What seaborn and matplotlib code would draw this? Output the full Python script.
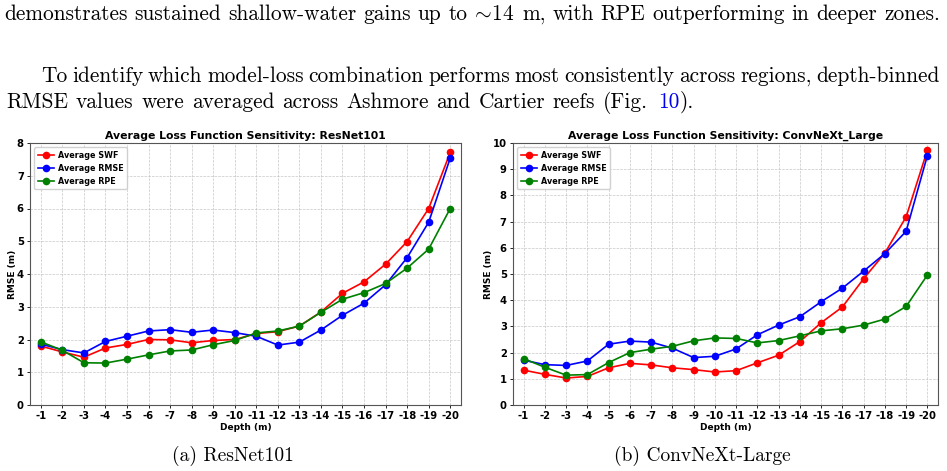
import pandas as pd
import seaborn as sns
import matplotlib.pyplot as plt

depths = [-1, -2, -3, -4, -5, -6, -7, -8, -9, -10,
          -11, -12, -13, -14, -15, -16, -17, -18, -19, -20]
depth_labels = [str(d) for d in depths]

# ResNet101 averages
resnet_swf = [1.80, 1.62, 1.46, 1.74, 1.85, 2.00, 1.99, 1.90, 1.97, 2.00,
              2.18, 2.24, 2.41, 2.84, 3.41, 3.76, 4.30, 4.99, 6.00, 7.71]
resnet_rmse = [1.86, 1.69, 1.59, 1.94, 2.10, 2.26, 2.30, 2.22, 2.29, 2.21,
               2.10, 1.83, 1.92, 2.29, 2.74, 3.11, 3.67, 4.50, 5.58, 7.54]
resnet_rpe = [1.93, 1.67, 1.29, 1.28, 1.40, 1.53, 1.65, 1.68, 1.84, 1.97,
              2.20, 2.26, 2.41, 2.83, 3.23, 3.43, 3.71, 4.18, 4.76, 6.00]

# ConvNeXt_Large averages
convnext_swf = [1.33, 1.17, 1.03, 1.09, 1.42, 1.59, 1.53, 1.42, 1.35, 1.26,
                1.31, 1.61, 1.90, 2.42, 3.14, 3.74, 4.82, 5.80, 7.18, 9.73]
convnext_rmse = [1.71, 1.54, 1.51, 1.68, 2.32, 2.44, 2.40, 2.17, 1.81, 1.86,
                 2.14, 2.68, 3.05, 3.37, 3.94, 4.46, 5.11, 5.78, 6.63, 9.52]
convnext_rpe = [1.77, 1.44, 1.14, 1.16, 1.62, 2.00, 2.13, 2.24, 2.45, 2.56,
                2.54, 2.37, 2.46, 2.64, 2.83, 2.91, 3.05, 3.28, 3.76, 4.96]

series_names = ['Average SWF', 'Average RMSE', 'Average RPE']
series_colors = ['red', 'blue', 'green']

line_1 = ('demonstrates sustained shallow-water gains up to $\\!\\sim\\!$14 m, '
          'with RPE outperforming in deeper zones.')
line_2 = ('To identify which model-loss combination performs most consistently '
          'across regions, depth-binned')
line_3 = 'RMSE values were averaged across Ashmore and Cartier reefs (Fig.'
fig_ref = '10'
captions = ['(a) ResNet101', '(b) ConvNeXt-Large']


def plot_panel(ax, values, title, ymax):
    for name, vals, col in zip(series_names, values, series_colors):
        df = pd.DataFrame({'depth': depths, 'rmse': vals})
        sns.lineplot(data=df, x='depth', y='rmse', color=col, marker='o',
                     markersize=5.5, markeredgewidth=0, linewidth=1.2,
                     label=name, ax=ax)
    ax.set_xlim(-0.5, -20.5)
    ax.set_ylim(0, ymax)
    ax.set_xticks(depths)
    ax.set_xticklabels(depth_labels)
    ax.set_yticks(range(0, ymax + 1))
    ax.grid(True, linestyle='--', linewidth=0.5, color='#b0b0b0', alpha=0.7)
    ax.set_title(title, fontsize=7.8, fontweight='bold', pad=3)
    ax.set_xlabel('Depth (m)', fontsize=6.5, fontweight='bold', labelpad=1)
    ax.set_ylabel('RMSE (m)', fontsize=6.5, fontweight='bold', labelpad=0)
    ax.tick_params(labelsize=7.2, length=2.5, width=0.6, pad=2)
    for lab in ax.get_xticklabels() + ax.get_yticklabels():
        lab.set_fontweight('bold')
    for sp in ax.spines.values():
        sp.set_linewidth(0.8)
        sp.set_color('#555555')
    leg = ax.legend(loc='upper left', fontsize=5.8, handlelength=2.0,
                    borderpad=0.45, labelspacing=0.5, handletextpad=0.5,
                    borderaxespad=0.5, framealpha=0.9)
    for t in leg.get_texts():
        t.set_fontweight('bold')


plt.rcParams['mathtext.fontset'] = 'cm'
fig = plt.figure(figsize=(9.47, 4.71), dpi=100)
W, H = 947, 471

ax1 = fig.add_axes([30 / W, 1 - 405 / H, 431 / W, 262 / H])
ax2 = fig.add_axes([513 / W, 1 - 405 / H, 425 / W, 262 / H])

plot_panel(ax1, [resnet_swf, resnet_rmse, resnet_rpe],
           'Average Loss Function Sensitivity: ResNet101', 8)
plot_panel(ax2, [convnext_swf, convnext_rmse, convnext_rpe],
           'Average Loss Function Sensitivity: ConvNeXt_Large', 10)

serif = 'cmr10'
fs = 15.4
renderer = fig.canvas.get_renderer()


def justified(text, x0, x1, y):
    # place words one by one so the line fills x0..x1 like LaTeX does
    words = [fig.text(0, 1 - y / H, w, fontsize=fs, family=serif,
                      va='baseline') for w in text.split(' ')]
    widths = [w.get_window_extent(renderer).width for w in words]
    gap = (x1 - x0 - sum(widths)) / (len(words) - 1)
    x = x0
    for w, wd in zip(words, widths):
        w.set_x(x / W)
        x += wd + gap
    return gap


justified(line_1, 4, 940, 20)
justified(line_2, 41, 940, 82)

# last line of the paragraph, then the blue figure reference
justified(line_3, 6, 648, 108)
t4 = fig.text(658 / W, 1 - 108 / H, fig_ref, fontsize=fs,
              family=serif, va='baseline', color='#0000ee')
bb2 = t4.get_window_extent(renderer)
fig.text(bb2.x1 / W, 1 - 108 / H, ').', fontsize=fs, family=serif,
         va='baseline')

fig.text(233 / W, 1 - 461 / H, captions[0], fontsize=14, family=serif,
         va='baseline', ha='center')
fig.text(702 / W, 1 - 461 / H, captions[1], fontsize=14, family=serif,
         va='baseline', ha='center')

fig.savefig('out.png', dpi=100)
